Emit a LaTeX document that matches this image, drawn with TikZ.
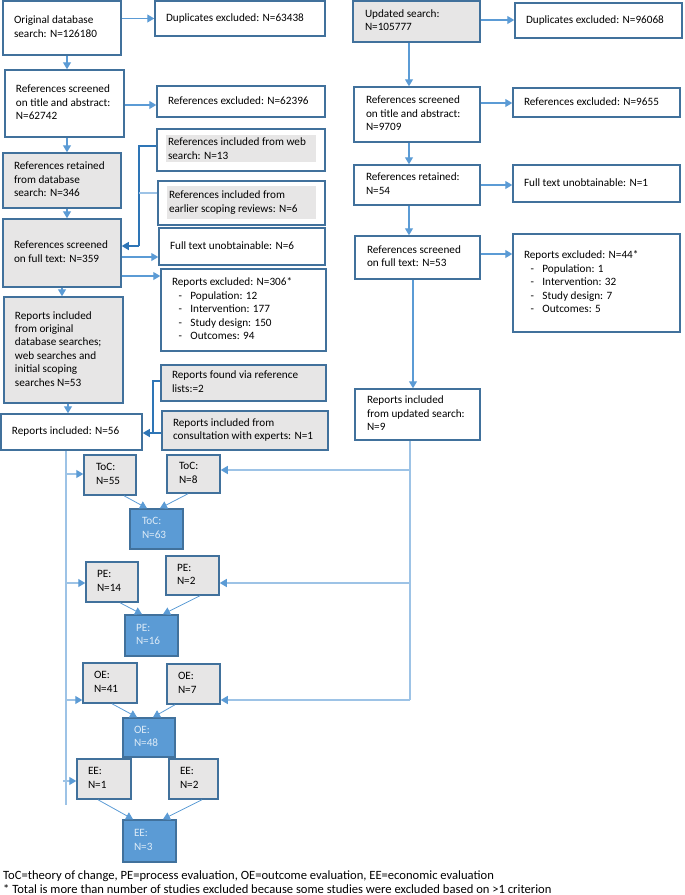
\documentclass[tikz,border=0pt]{standalone}
\usepackage{fontspec}
\setmainfont{Carlito}
\usetikzlibrary{arrows.meta}
\definecolor{bdr}{HTML}{41719C}
\definecolor{acol}{HTML}{5B9BD5}
\definecolor{dcol}{HTML}{2E75B6}
\definecolor{lcol}{HTML}{9DC3E6}
\definecolor{gfill}{HTML}{E7E6E6}
\definecolor{bfill}{HTML}{5B9BD5}
\definecolor{btext}{HTML}{DDEBF7}
\newcommand\bul{\hspace*{6.5pt}-\hspace{8.5pt}}
\newcommand\mybox[8]{%
  \pgfmathsetmacro\bxw{#4-#2}\pgfmathsetmacro\bxh{#5-#3}%
  \pgfmathsetmacro\bxcx{(#2+#4)/2}\pgfmathsetmacro\bxcy{(#3+#5)/2}%
  \pgfmathsetmacro\bxtw{#4-#2-2*#7}%
  \node[box,#6,inner xsep=#7pt,minimum width=\bxw pt,minimum height=\bxh pt] (#1) at (\bxcx,\bxcy)
    {\makebox[\bxtw pt][l]{\begin{tabular}{@{}l@{}}#8\end{tabular}}};}
\tikzset{
  box/.style={draw=bdr, line width=1.5pt, inner ysep=0pt, fill=white, text=black,
    font=\fontsize{11.2}{13.4}\selectfont},
  grey/.style={fill=gfill},
  bluebox/.style={fill=bfill, text=btext},
  nofill/.style={fill=none},
  tip/.style={-{Triangle[length=7pt,width=8pt]}},
  arr/.style={draw=acol, line width=1.1pt, tip},
  darr/.style={draw=dcol, line width=1.1pt, tip},
  dln/.style={draw=dcol, line width=1.1pt},
  ln/.style={draw=lcol, line width=1.2pt},
  larr/.style={draw=lcol, line width=1.2pt, -{Triangle[length=7pt,width=8pt,color=acol]}},
  diag/.style={draw=acol, line width=0.8pt, tip},
  fn/.style={inner sep=0pt, font=\fontsize{12.6}{15}\selectfont, text=black}
}
\begin{document}
\begin{tikzpicture}[x=1pt,y=-1pt]
\useasboundingbox (0,0) rectangle (685,895);
% left column
\mybox{orig}{3}{1}{121}{55}{}{11}{Original database\\search: N=126180}
\mybox{dup1}{155}{1}{325}{36}{}{11}{Duplicates excluded: N=63438}
\mybox{scr1}{5}{70}{124}{137}{}{11}{References screened\\on title and abstract:\\N=62742}
\mybox{exc1}{157}{86}{325}{117}{}{11}{References excluded: N=62396}
\mybox{ret1}{3}{153}{121}{208}{grey}{11}{References retained\\from database\\search: N=346}
\fill[gfill] (166,135) rectangle (316,162);
\mybox{web}{157}{129}{325}{171}{nofill}{11}{References included from web\\search: N=13}
\fill[gfill] (167,186) rectangle (316,219);
\mybox{scop}{158}{181}{325}{225}{nofill}{11}{References included from\\earlier scoping reviews: N=6}
\mybox{sft1}{3}{219}{121}{287}{grey}{11}{References screened\\on full text: N=359}
\mybox{ftu1}{159}{228}{325}{265}{}{11}{Full text unobtainable: N=6}
\mybox{rex1}{161}{269}{326}{351}{}{11}{Reports excluded: N=306*\\\bul Population: 12\\\bul Intervention: 177\\\bul Study design: 150\\\bul Outcomes: 94}
\mybox{rinc}{4}{297}{123}{403}{grey}{11}{Reports included\\from original\\database searches;\\web searches and\\initial scoping\\searches N=53}
\mybox{rl}{161}{365}{326}{401}{grey}{11}{Reports found via reference\\lists:=2}
\mybox{ce}{162}{411}{328}{450}{grey}{11}{Reports included from\\consultation with experts: N=1}
\mybox{r56}{1}{414}{142}{450}{}{11}{Reports included: N=56}
% right column
\mybox{upd}{353}{1}{480}{42}{grey}{12}{Updated search:\\N=105777}
\mybox{dup2}{515}{3}{682}{38}{}{11}{Duplicates excluded: N=96068}
\mybox{scr2}{354}{87}{480}{142}{}{12}{References screened\\on title and abstract:\\N=9709}
\mybox{exc2}{513}{88}{680}{117}{}{11}{References excluded: N=9655}
\mybox{ret2}{354}{165}{480}{205}{}{12}{References retained:\\N=54}
\mybox{ftu2}{513}{165}{680}{202}{}{11}{Full text unobtainable: N=1}
\mybox{sft2}{355}{236}{480}{279}{}{12}{References screened\\on full text: N=53}
\mybox{rex2}{513}{234}{680}{332}{}{11}{Reports excluded: N=44*\\\bul Population: 1\\\bul Intervention: 32\\\bul Study design: 7\\\bul Outcomes: 5}
\mybox{r9}{355}{389}{480}{440}{}{12}{Reports included\\from updated search:\\N=9}
% lower boxes
\mybox{toc55}{84}{455}{136}{495}{grey}{12}{ToC:\\N=55}
\mybox{toc8}{167}{455}{220}{493}{grey}{12}{ToC:\\N=8}
\mybox{toc63}{130}{509}{183}{549}{bluebox}{12}{ToC:\\N=63}
\mybox{pe14}{86}{562}{138}{602}{grey}{11}{PE:\\N=14}
\mybox{pe2}{166}{556}{219}{595}{grey}{11}{PE:\\N=2}
\mybox{pe16}{125}{615}{178}{656}{bluebox}{11}{PE:\\N=16}
\mybox{oe41}{83}{663}{137}{703}{grey}{11}{OE:\\N=41}
\mybox{oe7}{167}{664}{220}{704}{grey}{11}{OE:\\N=7}
\mybox{oe48}{123}{718}{175}{757}{bluebox}{11}{OE:\\N=48}
\mybox{ee1}{77}{759}{131}{799}{grey}{11}{EE:\\N=1}
\mybox{ee2}{169}{759}{218}{799}{grey}{11}{EE:\\N=2}
\mybox{ee3}{123}{820}{176}{862}{bluebox}{11}{EE:\\N=3}
% left column arrows
\draw[arr] (orig.east |- dup1.west) -- (dup1.west);
\draw[arr] (orig.south -| 67,0) -- (scr1.north -| 67,0);
\draw[arr] (scr1.east |- 0,105) -- (exc1.west |- 0,105);
\draw[arr] (scr1.south -| 67,0) -- (ret1.north -| 67,0);
\draw[arr] (ret1.south -| 67,0) -- (sft1.north -| 67,0);
\coordinate (wj) at (139,146);
\coordinate (sj) at (139,193);
\coordinate (fj) at (139,246);
\draw[dln] (web.west |- wj) -- (wj) -- (fj);
\draw[ln] (scop.west |- sj) -- (sj);
\draw[darr] (fj) -- (fj -| sft1.east);
\draw[arr] (sft1.east |- 0,257) -- (ftu1.west |- 0,257);
\draw[arr] (sft1.east |- 0,276) -- (rex1.west |- 0,276);
\draw[arr] (sft1.south -| 62,0) -- (rinc.north -| 62,0);
\draw[arr] (rinc.south -| 68,0) -- (r56.north -| 68,0);
\coordinate (rj) at (153,381);
\coordinate (cj) at (153,433);
\draw[dln] (rl.west |- rj) -- (rj) -- (cj);
\draw[darr] (ce.west |- cj) -- (r56.east |- cj);
% right column arrows
\draw[arr] (upd.east |- 0,20) -- (dup2.west |- 0,20);
\draw[arr] (upd.south -| 409,0) -- (scr2.north -| 409,0);
\draw[arr] (scr2.east |- 0,103) -- (exc2.west |- 0,103);
\draw[arr] (scr2.south -| 409,0) -- (ret2.north -| 409,0);
\draw[arr] (ret2.east |- 0,185) -- (ftu2.west |- 0,185);
\draw[arr] (ret2.south -| 409,0) -- (sft2.north -| 409,0);
\draw[arr] (sft2.east |- 0,254) -- (rex2.west |- 0,254);
\draw[arr] (sft2.south -| 413,0) -- (r9.north -| 413,0);
% lower trunk lines
\coordinate (lb) at (66,805);
\coordinate (l1) at (66,474);
\coordinate (l2) at (66,583);
\coordinate (l3) at (66,700);
\coordinate (l4) at (63,781);
\draw[ln] (r56.south -| 66,0) -- (lb);
\draw[larr] (l1) -- (toc55.west |- l1);
\draw[larr] (l2) -- (pe14.west |- l2);
\draw[larr] (l3) -- (oe41.west |- l3);
\draw[larr] (l4) -- (ee1.west |- l4);
\coordinate (rb) at (410,700);
\coordinate (q1) at (410,470);
\coordinate (q2) at (410,583);
\draw[ln] (r9.south -| 410,0) -- (rb);
\draw[larr] (q1) -- (toc8.east |- q1);
\draw[larr] (q2) -- (pe2.east |- q2);
\draw[larr] (rb) -- (oe7.east |- rb);
% diagonals
\draw[diag] (toc55.south -| 124,0) -- (toc63.north -| 147,0);
\draw[diag] (toc8.south -| 188,0) -- (toc63.north -| 160,0);
\draw[diag] (pe14.south -| 120,0) -- (pe16.north -| 142,0);
\draw[diag] (pe2.south -| 200,0) -- (pe16.north -| 163,0);
\draw[diag] (oe41.south -| 112,0) -- (oe48.north -| 137,0);
\draw[diag] (oe7.south -| 175,0) -- (oe48.north -| 153,0);
\draw[diag] (ee1.south -| 98,0) -- (ee3.north -| 133,0);
\draw[diag] (ee2.south -| 202,0) -- (ee3.north -| 163,0);
% footnotes
\node[fn, anchor=base west] (fn1) at (3,879) {ToC=theory of change, PE=process evaluation, OE=outcome evaluation, EE=economic evaluation};
\node[fn, anchor=base west] (fn2) at (3,893) {* Total is more than number of studies excluded because some studies were excluded based on >1 criterion};
\end{tikzpicture}
\end{document}
